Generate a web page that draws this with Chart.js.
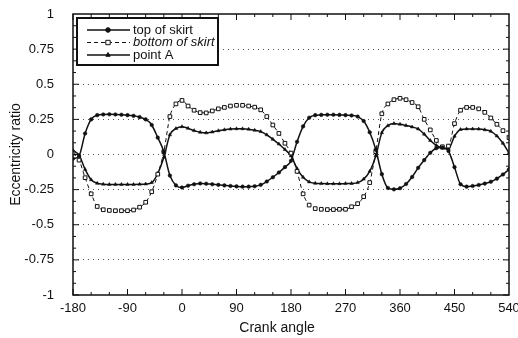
<!DOCTYPE html>
<html>
<head>
<meta charset="utf-8">
<script src="https://cdn.jsdelivr.net/npm/chart.js@4.4.1/dist/chart.umd.min.js"></script>
<style>
  html, body { margin: 0; padding: 0; background: #fff; }
  #wrap { width: 518px; height: 338px; }
</style>
</head>
<body>
<div id="wrap"><canvas id="chart"></canvas></div>
<script>
// crank angle (deg), one sample every 10 degrees
const crankAngles = [
  -180, -170, -160, -150, -140, -130, -120, -110, -100, -90, -80, -70, -60, -50, -40, -30, -20, -10,
  0, 10, 20, 30, 40, 50, 60, 70, 80, 90, 100, 110, 120, 130, 140, 150, 160, 170,
  180, 190, 200, 210, 220, 230, 240, 250, 260, 270, 280, 290, 300, 310, 320, 330, 340, 350,
  360, 370, 380, 390, 400, 410, 420, 430, 440, 450, 460, 470, 480, 490, 500, 510, 520, 530, 540
];

const topOfSkirt = [
  -0.03, -0.01, 0.15, 0.25, 0.28, 0.285, 0.286, 0.285, 0.283, 0.28, 0.275, 0.266, 0.25, 0.21, 0.12, 0.02, -0.15, -0.22,
  -0.235, -0.222, -0.212, -0.206, -0.208, -0.212, -0.216, -0.22, -0.224, -0.227, -0.229, -0.229, -0.226, -0.216, -0.192, -0.162, -0.128, -0.09,
  -0.045, 0.09, 0.2, 0.262, 0.28, 0.282, 0.283, 0.283, 0.282, 0.28, 0.278, 0.27, 0.238, 0.158, 0.035, -0.14, -0.238, -0.248,
  -0.24, -0.21, -0.16, -0.095, -0.04, 0.012, 0.045, 0.05, 0.025, -0.09, -0.212, -0.229, -0.224, -0.217, -0.207, -0.194, -0.172, -0.142, -0.106
];

const bottomOfSkirt = [
  0.01, -0.04, -0.165, -0.28, -0.37, -0.393, -0.398, -0.4, -0.4, -0.4, -0.395, -0.375, -0.34, -0.265, -0.14, 0.02, 0.27, 0.36,
  0.385, 0.345, 0.315, 0.298, 0.296, 0.31, 0.325, 0.335, 0.345, 0.35, 0.35, 0.345, 0.337, 0.318, 0.27, 0.21, 0.15, 0.08,
  0.01, -0.12, -0.28, -0.36, -0.385, -0.39, -0.392, -0.392, -0.39, -0.39, -0.372, -0.35, -0.3, -0.2, 0.02, 0.29, 0.36, 0.39,
  0.4, 0.39, 0.37, 0.34, 0.25, 0.175, 0.1, 0.055, 0.06, 0.22, 0.315, 0.335, 0.335, 0.325, 0.3, 0.26, 0.215, 0.17, 0.12
];

const pointA = [
  0.03, -0.005, -0.106, -0.18, -0.205, -0.211, -0.213, -0.213, -0.213, -0.213, -0.213, -0.212, -0.21, -0.2, -0.135, -0.02, 0.14, 0.185,
  0.198, 0.186, 0.17, 0.158, 0.154, 0.16, 0.169, 0.176, 0.181, 0.183, 0.183, 0.18, 0.173, 0.163, 0.14, 0.108, 0.075, 0.035,
  -0.01, -0.1, -0.162, -0.195, -0.205, -0.207, -0.208, -0.208, -0.208, -0.207, -0.206, -0.2, -0.175, -0.12, -0.01, 0.155, 0.205, 0.22,
  0.215, 0.206, 0.196, 0.182, 0.145, 0.1, 0.065, 0.045, 0.04, 0.13, 0.178, 0.182, 0.182, 0.181, 0.176, 0.165, 0.132, 0.08, 0.012
];

const xTicks = [-180, -90, 0, 90, 180, 270, 360, 450, 540];
const yTicks = [-1, -0.75, -0.5, -0.25, 0, 0.25, 0.5, 0.75, 1];
const xTitle = "Crank angle";

const toPoints = vals => crankAngles.map((a, i) => ({ x: a, y: vals[i] }));
const ink = "#111";
const fontFamily = "'Liberation Sans', Arial, sans-serif";

// frame, inward tick marks, x title and the boxed legend
const framePlugin = {
  id: "framePlugin",
  afterDatasetsDraw(chart) {
    const { ctx, chartArea: a, scales: { x, y } } = chart;
    ctx.save();
    ctx.strokeStyle = ink;
    ctx.lineWidth = 1.5;
    ctx.strokeRect(a.left, a.top, a.right - a.left, a.bottom - a.top);

    ctx.lineWidth = 1;
    ctx.beginPath();
    // 3 minor divisions between labelled ticks
    for (let i = 0; i < yTicks.length - 1; i++) {
      for (let k = 0; k < 3; k++) {
        const v = yTicks[i] + (yTicks[i + 1] - yTicks[i]) * k / 3;
        const py = y.getPixelForValue(v);
        const len = k === 0 ? 6 : 3;
        ctx.moveTo(a.left, py); ctx.lineTo(a.left + len, py);
        ctx.moveTo(a.right, py); ctx.lineTo(a.right - len, py);
      }
    }
    for (let i = 0; i < xTicks.length - 1; i++) {
      for (let k = 0; k < 3; k++) {
        const v = xTicks[i] + (xTicks[i + 1] - xTicks[i]) * k / 3;
        const px = x.getPixelForValue(v);
        const len = k === 0 ? 6 : 3;
        ctx.moveTo(px, a.bottom); ctx.lineTo(px, a.bottom - len);
        ctx.moveTo(px, a.top); ctx.lineTo(px, a.top + len);
      }
    }
    ctx.stroke();

    // x title sits a little left of centre in the original
    ctx.fillStyle = ink;
    ctx.font = "14px " + fontFamily;
    ctx.textAlign = "center";
    ctx.textBaseline = "middle";
    ctx.fillText(xTitle, a.left + (a.right - a.left) * 0.468, a.bottom + 33);
    ctx.textAlign = "left";

    // legend box
    const bx = a.left + 4, by = a.top + 4, bw = 141, bh = 47;
    ctx.fillStyle = "#fff";
    ctx.fillRect(bx, by, bw, bh);
    ctx.lineWidth = 2;
    ctx.strokeRect(bx, by, bw, bh);

    chart.data.datasets.forEach((ds, i) => {
      const ly = by + 12 + i * 12.5;
      ctx.save();
      ctx.strokeStyle = ink;
      ctx.lineWidth = ds.borderWidth;
      ctx.setLineDash(ds.borderDash || []);
      ctx.beginPath();
      ctx.moveTo(bx + 10, ly);
      ctx.lineTo(bx + 53, ly);
      ctx.stroke();
      ctx.setLineDash([]);
      ctx.fillStyle = ds.pointBackgroundColor;
      ctx.lineWidth = 1;
      Chart.helpers.drawPoint(ctx, {
        pointStyle: ds.pointStyle, radius: ds.pointRadius + 0.5, rotation: 0, borderWidth: 1
      }, bx + 31, ly);
      ctx.restore();

      ctx.fillStyle = ink;
      ctx.textBaseline = "middle";
      ctx.font = (ds.italicLegend ? "italic " : "") + "13px " + fontFamily;
      ctx.fillText(ds.label, bx + 56, ly);
    });
    ctx.restore();
  }
};

new Chart(document.getElementById("chart"), {
  type: "line",
  data: {
    datasets: [
      {
        label: "top of skirt",
        data: toPoints(topOfSkirt),
        borderColor: ink,
        borderWidth: 1.5,
        pointStyle: "circle",
        pointRadius: 1.8,
        pointBackgroundColor: ink,
        pointBorderColor: ink,
        pointBorderWidth: 0.5
      },
      {
        label: "bottom of skirt",
        italicLegend: true,
        data: toPoints(bottomOfSkirt),
        borderColor: ink,
        borderWidth: 1,
        borderDash: [4, 3],
        pointStyle: "rect",
        pointRadius: 2.6,
        pointBackgroundColor: "#fff",
        pointBorderColor: ink,
        pointBorderWidth: 1
      },
      {
        label: "point A",
        data: toPoints(pointA),
        borderColor: ink,
        borderWidth: 1.5,
        pointStyle: "triangle",
        pointRadius: 2,
        pointBackgroundColor: ink,
        pointBorderColor: ink,
        pointBorderWidth: 0.5
      }
    ]
  },
  options: {
    responsive: true,
    maintainAspectRatio: false,
    animation: false,
    devicePixelRatio: 1,
    layout: { padding: { top: 14, right: 9, left: 0, bottom: 0 } },
    elements: { line: { cubicInterpolationMode: "monotone" } },
    plugins: { legend: { display: false }, tooltip: { enabled: false } },
    scales: {
      x: {
        type: "linear",
        min: -180,
        max: 540,
        afterBuildTicks: s => { s.ticks = xTicks.map(v => ({ value: v })); },
        afterFit: s => { s.height = 43; s.paddingLeft = 0; s.paddingRight = 0; },
        grid: { display: false, drawTicks: false },
        border: { display: false },
        ticks: {
          color: ink, padding: 6, maxRotation: 0, autoSkip: false,
          font: { family: fontFamily, size: 13 },
          callback: v => String(v)
        },
        title: { display: false }
      },
      y: {
        min: -1,
        max: 1,
        afterBuildTicks: s => { s.ticks = yTicks.map(v => ({ value: v })); },
        afterFit: s => { s.width = 73; s.paddingTop = 0; s.paddingBottom = 0; },
        grid: {
          drawTicks: false,
          lineWidth: 1,
          color: c => (c.tick && Math.abs(c.tick.value) === 1 ? "rgba(0,0,0,0)" : "#555")
        },
        border: { display: false, dash: [1, 4] },
        ticks: {
          color: ink, padding: 19,
          font: { family: fontFamily, size: 13 },
          callback: v => String(v)
        },
        title: {
          display: true,
          text: "Eccentricity ratio",
          color: ink,
          padding: { top: 8, bottom: 0 },
          font: { family: fontFamily, size: 14 }
        }
      }
    }
  },
  plugins: [framePlugin]
});
</script>
</body>
</html>
